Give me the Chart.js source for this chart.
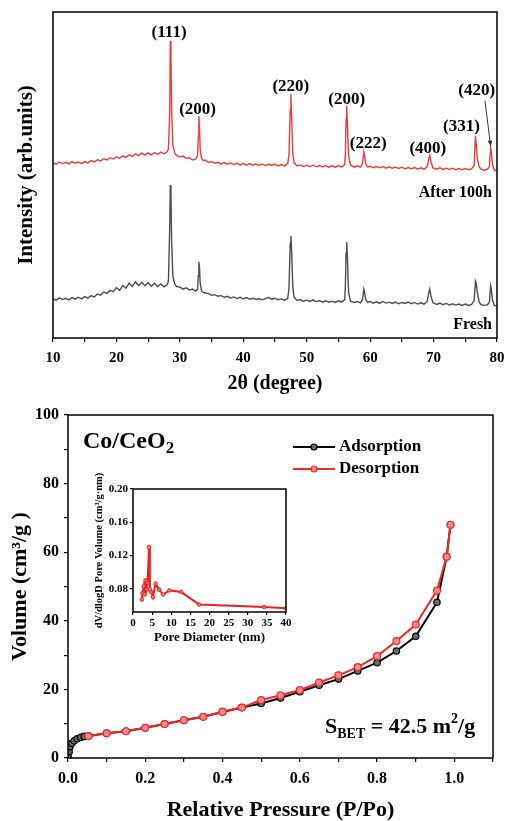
<!DOCTYPE html>
<html>
<head>
<meta charset="utf-8">
<script src="https://cdn.jsdelivr.net/npm/chart.js@4.4.0/dist/chart.umd.min.js"></script>
<style>
  body { margin: 0; background: #fff; }
  #wrap { position: relative; width: 505px; height: 821px; }
  canvas { position: absolute; }
</style>
</head>
<body>
<div id="wrap">
  <canvas id="xrd" width="505" height="395" style="left:0;top:0"></canvas>
  <canvas id="bet" width="505" height="426" style="left:0;top:395px"></canvas>
  <canvas id="pore" width="210" height="176" style="left:88px;top:470px"></canvas>
</div>
<script>
// XRD patterns (2θ in degrees, intensity in arbitrary units, curves already offset)
const twoTheta = [
  10.0, 10.5, 11.0, 11.5, 12.0, 12.5, 13.0, 13.5, 14.0, 14.5, 15.0, 15.5, 16.0, 16.5, 17.0, 17.5,
  18.0, 18.5, 19.0, 19.5, 20.0, 20.5, 21.0, 21.5, 22.0, 22.5, 23.0, 23.5, 24.0, 24.5, 25.0, 25.5,
  26.0, 26.5, 27.0, 27.5, 28.0, 28.2, 28.4, 28.5, 28.6, 28.7, 28.9, 29.2, 29.5, 30.0, 30.5, 31.0,
  31.5, 32.0, 32.5, 32.8, 32.9, 33.0, 33.1, 33.2, 33.4, 33.7, 34.0, 34.5, 35.0, 35.5, 36.0, 36.5,
  37.0, 37.5, 38.0, 38.5, 39.0, 39.5, 40.0, 40.5, 41.0, 41.5, 42.0, 42.5, 43.0, 43.5, 44.0, 44.5,
  45.0, 45.5, 46.0, 46.5, 47.0, 47.2, 47.4, 47.5, 47.6, 47.8, 48.0, 48.5, 49.0, 49.5, 50.0, 50.5,
  51.0, 51.5, 52.0, 52.5, 53.0, 53.5, 54.0, 54.5, 55.0, 55.5, 56.0, 56.1, 56.2, 56.3, 56.4, 56.6,
  56.9, 57.5, 58.0, 58.5, 58.8, 59.0, 59.1, 59.3, 59.6, 60.0, 60.5, 61.0, 61.5, 62.0, 62.5, 63.0,
  63.5, 64.0, 64.5, 65.0, 65.5, 66.0, 66.5, 67.0, 67.5, 68.0, 68.5, 69.0, 69.2, 69.4, 69.6, 69.9,
  70.5, 71.0, 71.5, 72.0, 72.5, 73.0, 73.5, 74.0, 74.5, 75.0, 75.5, 76.0, 76.4, 76.6, 76.7, 76.9,
  77.2, 77.5, 78.0, 78.5, 78.8, 79.0, 79.1, 79.3, 79.6, 80.0
];
const after100h = [
  537, 533, 540, 535, 539, 534, 541, 536, 540, 535, 541, 537, 544, 540, 547, 543,
  550, 546, 553, 549, 556, 551, 559, 554, 562, 557, 565, 559, 567, 561, 568, 562,
  569, 563, 570, 565, 571, 580, 690, 911, 860, 700, 590, 566, 560, 555, 558, 551,
  553, 546, 549, 560, 620, 681, 640, 580, 552, 544, 546, 539, 541, 536, 539, 534,
  538, 533, 537, 532, 536, 531, 535, 530, 535, 530, 534, 529, 534, 529, 533, 530,
  533, 528, 532, 528, 535, 560, 700, 748, 690, 570, 538, 528, 531, 526, 530, 526,
  530, 525, 529, 525, 529, 524, 528, 524, 529, 525, 532, 570, 670, 712, 660, 560,
  530, 524, 528, 524, 535, 571, 560, 535, 525, 527, 522, 526, 522, 526, 521, 525,
  521, 524, 520, 524, 519, 523, 519, 523, 518, 522, 518, 525, 545, 561, 540, 522,
  518, 522, 517, 521, 517, 521, 516, 520, 516, 520, 516, 519, 530, 620, 600, 550,
  525, 518, 514, 518, 525, 583, 570, 530, 514, 515
];
const fresh = [
  120, 116, 123, 118, 122, 117, 124, 119, 125, 120, 127, 122, 130, 126, 135, 131,
  141, 137, 146, 142, 154, 146, 161, 153, 168, 158, 172, 161, 171, 160, 170, 159,
  168, 158, 166, 157, 163, 175, 340, 469, 440, 300, 190, 165, 158, 156, 150, 154,
  147, 150, 144, 150, 190, 233, 215, 170, 145, 140, 138, 136, 131, 133, 128, 130,
  125, 128, 123, 126, 121, 125, 120, 124, 119, 122, 118, 121, 117, 121, 124, 119,
  122, 117, 120, 116, 121, 150, 290, 313, 280, 160, 125, 115, 118, 113, 116, 112,
  117, 111, 115, 110, 114, 110, 113, 109, 114, 110, 118, 160, 260, 294, 255, 140,
  113, 109, 112, 108, 118, 150, 143, 118, 110, 112, 107, 111, 106, 112, 107, 110,
  106, 110, 105, 109, 106, 110, 105, 109, 104, 108, 104, 112, 135, 150, 128, 108,
  103, 107, 102, 106, 101, 105, 101, 104, 100, 104, 100, 103, 115, 175, 170, 140,
  110, 102, 100, 102, 110, 160, 150, 115, 99, 100
];
const peakLabels = ['(111)', '(200)', '(220)', '(200)', '(222)', '(400)', '(331)', '(420)'];

// N2 isotherm
const pAds = [0.0005, 0.003, 0.005, 0.01, 0.016, 0.024, 0.033, 0.042, 0.053, 0.1, 0.15, 0.2, 0.25, 0.3,
  0.35, 0.4, 0.45, 0.5, 0.55, 0.6, 0.65, 0.7, 0.75, 0.8, 0.85, 0.9, 0.955, 0.98, 0.99];
const adsorption = [0.3, 1.8, 3.3, 4.3, 5.0, 5.6, 6.0, 6.3, 6.4, 7.2, 7.8, 8.8, 9.9, 11.0,
  12.0, 13.4, 14.7, 15.9, 17.5, 19.3, 21.2, 23.0, 25.4, 27.8, 31.2, 35.5, 45.4, 58.7, 68.0];
const pDes = [0.99, 0.98, 0.955, 0.9, 0.85, 0.8, 0.75, 0.7, 0.65, 0.6, 0.55, 0.5, 0.45, 0.4,
  0.35, 0.3, 0.25, 0.2, 0.15, 0.1, 0.053];
const desorption = [68.0, 58.7, 48.8, 38.9, 34.1, 29.7, 26.5, 24.1, 22.0, 19.8, 18.3, 16.9, 14.7, 13.5,
  12.0, 11.0, 9.9, 8.8, 7.8, 7.2, 6.4];

// pore size distribution (inset)
const poreD = [2.3, 2.5, 2.8, 3.0, 3.3, 3.5, 3.8, 4.2, 4.4, 4.8, 5.2, 5.9, 6.8, 7.9, 9.5, 12.6, 17.3, 34.3, 40];
const poreV = [0.067, 0.075, 0.083, 0.073, 0.090, 0.079, 0.087, 0.130, 0.079, 0.076, 0.070, 0.086, 0.079,
  0.073, 0.078, 0.076, 0.061, 0.058, 0.0565];
const poreTicks = [0.08, 0.12, 0.16, 0.20];

const serif = "'Liberation Serif', 'Times New Roman', serif";
Chart.defaults.font.family = serif;
Chart.defaults.font.weight = 'bold';
Chart.defaults.color = '#000';
Chart.defaults.animation = false;

const pairs = (xs, ys) => xs.map((v, i) => ({ x: v, y: ys[i] }));

function frame(chart) {
  const a = chart.chartArea, ctx = chart.ctx;
  ctx.save();
  ctx.strokeStyle = '#000';
  ctx.lineWidth = 1.5;
  ctx.strokeRect(a.left, a.top, a.right - a.left, a.bottom - a.top);
  ctx.restore();
}

// fixed axis box; end labels may hang into the margin
const fixHeight = h => s => { s.height = h; s.paddingLeft = 0; s.paddingRight = 0; };

// runs of text with sub/superscripts: [text, size, dy]
function richText(ctx, x, y, parts) {
  parts.forEach(([t, size, dy]) => {
    ctx.font = 'bold ' + size + 'px ' + serif;
    ctx.fillText(t, x, y + dy);
    x += ctx.measureText(t).width;
  });
}

const tickGrid = { drawOnChartArea: false, drawTicks: true, tickLength: 4, color: '#000', lineWidth: 1.2 };

// ---------- XRD ----------
const labelAt = [[28.3, 936], [32.8, 702], [47.5, 770], [56.3, 730], [59.7, 595], [69.1, 580], [74.4, 647], [76.8, 758]];

new Chart(document.getElementById('xrd'), {
  type: 'scatter',
  data: {
    datasets: [
      { data: pairs(twoTheta, after100h), showLine: true, borderColor: '#ee3a3a', borderWidth: 1.4, pointRadius: 0 },
      { data: pairs(twoTheta, fresh), showLine: true, borderColor: '#4d4d4d', borderWidth: 1.4, pointRadius: 0 }
    ]
  },
  options: {
    responsive: false,
    devicePixelRatio: 1,
    layout: { padding: { top: 12, right: 8, left: 0, bottom: 0 } },
    plugins: { legend: { display: false }, tooltip: { enabled: false } },
    scales: {
      x: {
        type: 'linear', min: 10, max: 80,
        ticks: { stepSize: 5, font: { size: 15 }, padding: 7, maxRotation: 0, autoSkip: false,
          callback: v => (v % 10 === 0 ? v : '') },
        grid: tickGrid, border: { display: false },
        title: { display: true, text: '2θ (degree)', font: { size: 20, lineHeight: 1 }, padding: { top: 0, bottom: 1 } },
        afterFit: fixHeight(57)
      },
      y: {
        min: 0, max: 1000,
        ticks: { display: false },
        grid: { display: false }, border: { display: false },
        title: { display: true, text: 'Intensity (arb.units)', font: { size: 21, lineHeight: 1 }, padding: { top: 16 } },
        afterFit: s => { s.width = 53; }
      }
    }
  },
  plugins: [{
    id: 'xrdNotes',
    afterDraw(chart) {
      const { ctx, chartArea: a, scales: { x, y } } = chart;
      frame(chart);
      ctx.save();
      ctx.fillStyle = '#000';
      ctx.textAlign = 'center';
      ctx.textBaseline = 'middle';
      ctx.font = 'bold 17px ' + serif;
      peakLabels.forEach((t, i) => ctx.fillText(t, x.getPixelForValue(labelAt[i][0]), y.getPixelForValue(labelAt[i][1])));
      ctx.textAlign = 'right';
      ctx.font = 'bold 16px ' + serif;
      ctx.fillText('After 100h', a.right - 5, 193);
      ctx.fillText('Fresh', a.right - 5, 325);
      // arrow to the (420) peak
      const x0 = x.getPixelForValue(78.1), y0 = y.getPixelForValue(728);
      const x1 = x.getPixelForValue(79.0), y1 = y.getPixelForValue(588);
      ctx.strokeStyle = '#333';
      ctx.lineWidth = 1;
      ctx.beginPath(); ctx.moveTo(x0, y0); ctx.lineTo(x1, y1); ctx.stroke();
      const ang = Math.atan2(y1 - y0, x1 - x0);
      ctx.beginPath();
      ctx.moveTo(x1, y1);
      ctx.lineTo(x1 - 6 * Math.cos(ang - 0.4), y1 - 6 * Math.sin(ang - 0.4));
      ctx.lineTo(x1 - 6 * Math.cos(ang + 0.4), y1 - 6 * Math.sin(ang + 0.4));
      ctx.closePath();
      ctx.fillStyle = '#333';
      ctx.fill();
      ctx.restore();
    }
  }]
});

// ---------- isotherm ----------
new Chart(document.getElementById('bet'), {
  type: 'scatter',
  data: {
    datasets: [
      { label: 'Adsorption', data: pairs(pAds, adsorption), showLine: true, order: 2,
        borderColor: '#000', borderWidth: 2, pointRadius: 3.2, pointBorderWidth: 1.2,
        pointBorderColor: '#000', pointBackgroundColor: '#6a6a6a' },
      { label: 'Desorption', data: pairs(pDes, desorption), showLine: true, order: 1,
        borderColor: '#f02828', borderWidth: 2, pointRadius: 3.5, pointBorderWidth: 1.2,
        pointBorderColor: '#f02828', pointBackgroundColor: '#f58a8a' }
    ]
  },
  options: {
    responsive: false,
    devicePixelRatio: 1,
    layout: { padding: { top: 20, right: 12, left: 0, bottom: 0 } },
    plugins: { legend: { display: false }, tooltip: { enabled: false } },
    scales: {
      x: {
        type: 'linear', min: 0, max: 1.1,
        ticks: { stepSize: 0.1, font: { size: 16 }, padding: 7, maxRotation: 0, autoSkip: false,
          callback: v => (Math.round(v * 10) % 2 === 0 ? v.toFixed(1) : '') },
        grid: tickGrid, border: { display: false },
        title: { display: true, text: 'Relative Pressure (P/Po)', font: { size: 22, lineHeight: 1 }, padding: { top: 0, bottom: 0 } },
        afterFit: fixHeight(63)
      },
      y: {
        min: 0, max: 100,
        ticks: { stepSize: 10, font: { size: 16 }, padding: 5, autoSkip: false,
          callback: v => (v % 20 === 0 ? v : '') },
        grid: tickGrid, border: { display: false },
        title: { display: true, text: 'Volume (cm³/g )', font: { size: 22, lineHeight: 1 }, padding: { top: 9 } },
        afterFit: s => { s.width = 68; }
      }
    }
  },
  plugins: [{
    id: 'betNotes',
    afterDraw(chart) {
      const ctx = chart.ctx;
      frame(chart);
      ctx.save();
      ctx.fillStyle = '#000';
      ctx.textAlign = 'left';
      ctx.textBaseline = 'middle';
      richText(ctx, 83, 47, [['Co/CeO', 24, 0], ['2', 17, 7]]);
      // legend
      chart.data.datasets.forEach((ds, i) => {
        const ly = 52 + i * 22;
        ctx.strokeStyle = ds.borderColor;
        ctx.lineWidth = 2;
        ctx.beginPath(); ctx.moveTo(293, ly); ctx.lineTo(335, ly); ctx.stroke();
        ctx.beginPath(); ctx.arc(314, ly, 3, 0, Math.PI * 2);
        ctx.fillStyle = ds.pointBackgroundColor; ctx.fill();
        ctx.lineWidth = 1.2; ctx.stroke();
        ctx.fillStyle = '#000';
        ctx.font = 'bold 17px ' + serif;
        ctx.fillText(ds.label, 339, ly);
      });
      richText(ctx, 325, 332, [['S', 22, 0], ['BET', 14, 7], [' = 42.5 m', 22, 0], ['2', 14, -8], ['/g', 22, 0]]);
      ctx.restore();
    }
  }]
});

// ---------- inset: pore size distribution ----------
new Chart(document.getElementById('pore'), {
  type: 'scatter',
  data: {
    datasets: [{
      data: pairs(poreD, poreV), showLine: true,
      borderColor: '#f02020', borderWidth: 2, pointRadius: 1.8, pointBorderWidth: 1,
      pointBorderColor: '#f02020', pointBackgroundColor: '#f57a7a'
    }]
  },
  options: {
    responsive: false,
    devicePixelRatio: 1,
    layout: { padding: { top: 19, right: 12, left: 0, bottom: 0 } },
    plugins: { legend: { display: false }, tooltip: { enabled: false } },
    scales: {
      x: {
        type: 'linear', min: 0, max: 40,
        ticks: { stepSize: 5, font: { size: 11 }, padding: 2, maxRotation: 0, autoSkip: false },
        grid: { ...tickGrid, tickLength: 3 }, border: { display: false },
        title: { display: true, text: 'Pore Diameter (nm)', font: { size: 13, lineHeight: 1 }, padding: { top: 0, bottom: 2 } },
        afterFit: fixHeight(34)
      },
      y: {
        min: 0.052, max: 0.2,
        afterBuildTicks: s => { s.ticks = poreTicks.map(v => ({ value: v })); },
        ticks: { font: { size: 11 }, padding: 2, callback: v => v.toFixed(2) },
        grid: { ...tickGrid, tickLength: 3 }, border: { display: false },
        title: { display: true, text: 'dV/dlogD Pore Volume (cm³/g·nm)', font: { size: 10.5, lineHeight: 1 }, padding: { top: 6 } },
        afterFit: s => { s.width = 45; }
      }
    }
  },
  plugins: [{ id: 'poreFrame', afterDraw: frame }]
});
</script>
</body>
</html>
